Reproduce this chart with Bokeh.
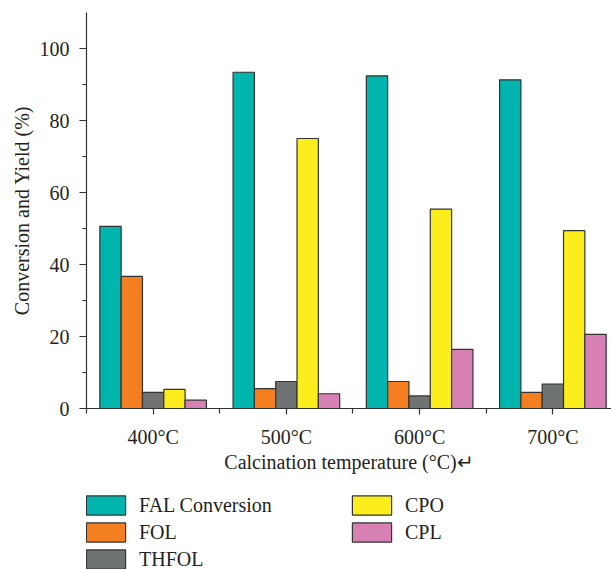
from bokeh.plotting import figure
from bokeh.layouts import column
from bokeh.models import ColumnDataSource, Range1d, FixedTicker, Legend, LegendItem
from bokeh.transform import dodge
from bokeh.embed import file_html
from bokeh.resources import INLINE

categories = ["400°C", "500°C", "600°C", "700°C"]
series = ["FAL Conversion", "FOL", "THFOL", "CPO", "CPL"]
fal = [50.6, 93.4, 92.4, 91.3]
fol = [36.7, 5.5, 7.5, 4.5]
thfol = [4.5, 7.5, 3.5, 6.8]
cpo = [5.3, 75.0, 55.4, 49.4]
cpl = [2.3, 4.1, 16.4, 20.6]
colors = ["#00b5ad", "#f47f21", "#6f7473", "#fcee1d", "#d680b4"]
y_ticks = [0, 20, 40, 60, 80, 100]

FONT = "Liberation Serif"
FS = "20px"
TXT = "#231f20"
EDGE = "#333333"
xpos = [i + 0.5 for i in range(len(categories))]
src = ColumnDataSource(dict(x=xpos, fal=fal, fol=fol, thfol=thfol, cpo=cpo, cpl=cpl))

w = 0.16
offsets = [-0.32, -0.16, 0.0, 0.16, 0.32]
fields = ["fal", "fol", "thfol", "cpo", "cpl"]

p = figure(width=611, height=490, output_backend="svg", toolbar_location=None,
           x_range=Range1d(0, 3.94), y_range=Range1d(0, 110),
           min_border_left=86, min_border_right=0, min_border_top=12, min_border_bottom=82)
p.outline_line_color = None
p.xgrid.visible = False
p.ygrid.visible = False

for f, off, c in zip(fields, offsets, colors):
    p.vbar(x=dodge("x", off), top=f, width=w, bottom=0, source=src,
           fill_color=c, line_color=EDGE, line_width=1.2)

xa = p.xaxis[0]
xa.ticker = FixedTicker(ticks=xpos, minor_ticks=[0, 1, 2, 3])
xa.major_label_overrides = {x: c for x, c in zip(xpos, categories)}
xa.axis_label = "Calcination temperature (°C)↵"
ya = p.yaxis[0]
ya.ticker = FixedTicker(ticks=y_ticks, minor_ticks=[10, 30, 50, 70, 90])
ya.axis_label = "Conversion and Yield (%)"

for ax in (xa, ya):
    ax.axis_line_color = EDGE
    ax.axis_line_width = 1.2
    ax.major_tick_line_color = EDGE
    ax.minor_tick_line_color = EDGE
    ax.major_tick_line_width = 1.2
    ax.minor_tick_line_width = 1.2
    ax.major_tick_in = 0
    ax.minor_tick_in = 0
    ax.major_label_text_font = FONT
    ax.major_label_text_font_size = FS
    ax.major_label_text_color = TXT
    ax.axis_label_text_font = FONT
    ax.axis_label_text_font_size = FS
    ax.axis_label_text_font_style = "normal"
    ax.axis_label_text_color = TXT

xa.major_tick_out = 6
xa.minor_tick_out = 5
xa.major_label_standoff = 11
xa.axis_label_standoff = 0
ya.major_tick_out = 7
ya.minor_tick_out = 4
ya.major_label_standoff = 10
ya.axis_label_standoff = 4
ya.major_label_orientation = "horizontal"

# legend panel (same bars, drawn outside its visible range; only the legend shows)
lg = figure(width=611, height=79, output_backend="svg", toolbar_location=None,
            x_range=Range1d(0, 3.94), y_range=Range1d(200, 201),
            x_axis_location=None, y_axis_location=None,
            min_border_left=86, min_border_right=0, min_border_top=3, min_border_bottom=0)
lg.outline_line_color = None
lg.xgrid.visible = False
lg.ygrid.visible = False
items = []
for s, f, off, c in zip(series, fields, offsets, colors):
    r = lg.vbar(x=dodge("x", off), top=f, width=w, bottom=0, source=src,
                fill_color=c, line_color=EDGE, line_width=1.2)
    items.append(LegendItem(label=s, renderers=[r]))
legend = Legend(items=items, orientation="vertical", nrows=3,
                location=(-5, -2), margin=0, padding=0,
                glyph_width=49, glyph_height=24, label_standoff=9,
                label_width=205, label_height=19, spacing=3,
                label_text_font=FONT, label_text_font_size=FS,
                label_text_color=TXT,
                border_line_color=None, background_fill_alpha=0)
lg.add_layout(legend, "center")

layout = column(p, lg, spacing=0)
open("out.html", "w").write(file_html(layout, INLINE))
